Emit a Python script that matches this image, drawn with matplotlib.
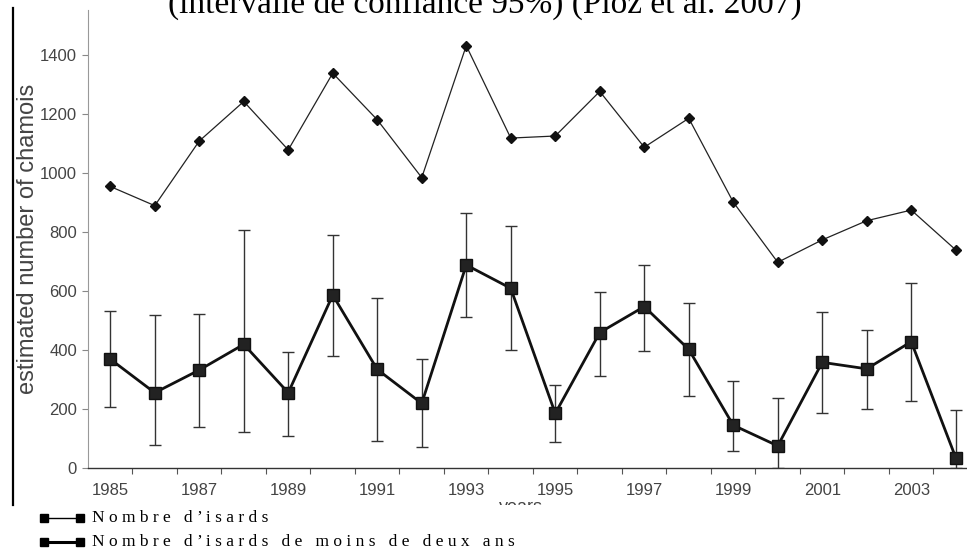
import matplotlib
matplotlib.use("Agg")
import matplotlib.pyplot as plt
from matplotlib.lines import Line2D
from matplotlib.patches import Rectangle
import numpy as np

years = np.arange(1985, 2005)

# total estimated chamois (diamonds)
total = [954, 889, 1108, 1242, 1078, 1338, 1180, 984, 1431, 1118,
         1125, 1276, 1087, 1185, 901, 697, 773, 838, 874, 739]

# chamois under two years (squares) with 95% CI
young = [369, 255, 332, 419, 255, 586, 334, 219, 688, 609,
         185, 459, 547, 402, 145, 75, 358, 336, 428, 35]
young_low = [206, 78, 140, 123, 110, 381, 92, 72, 511, 400,
             87, 312, 398, 244, 58, 0, 185, 199, 228, 0]
young_high = [533, 519, 521, 807, 394, 790, 575, 368, 863, 820,
              281, 598, 688, 558, 296, 238, 530, 468, 628, 197]

year_labels = list(range(1985, 2004, 2))
y_ticks = list(range(0, 1401, 200))

title = "(intervalle de confiance 95%) (Pioz et al. 2007)"
legend_labels = ["Nombre d\u2019isards", "Nombre d\u2019isards de moins de deux ans"]


def spaced(s):
    return " ".join(s)


fig = plt.figure(figsize=(9.67, 5.51), dpi=100)
ax = fig.add_axes([88 / 967, 1 - 468 / 551, (978 - 88) / 967, (468 - 10) / 551])

ax.plot(years, total, color="#222222", lw=0.9, marker="D", ms=5.5,
        mfc="#111111", mec="#111111", zorder=3)

err = [np.array(young) - np.array(young_low), np.array(young_high) - np.array(young)]
ax.errorbar(years, young, yerr=err, fmt="none", ecolor="#333333",
            elinewidth=1.0, capsize=4.5, capthick=1.0, zorder=2)
ax.plot(years, young, color="#111111", lw=2.0, marker="s", ms=8,
        mfc="#222222", mec="#111111", zorder=4, clip_on=False)

ax.set_xlim(1984.5, 2004.5)
ax.set_ylim(0, 1552)
ax.set_xticks(year_labels)
ax.set_xticklabels([str(y) for y in year_labels])
ax.set_xticks(np.arange(1985.5, 2004.6, 1.0), minor=True)
ax.tick_params(axis="x", which="major", length=0, pad=11, labelsize=12,
               labelcolor="#444444")
ax.tick_params(axis="x", which="minor", length=4, width=0.8, color="#555555",
               direction="out")
ax.set_yticks(y_ticks)
ax.tick_params(axis="y", length=4, width=0.8, color="#888888", pad=4,
               labelsize=12, labelcolor="#444444")
for lab in ax.get_xticklabels() + ax.get_yticklabels():
    lab.set_fontfamily("Liberation Sans")

ax.spines["top"].set_visible(False)
ax.spines["right"].set_visible(False)
ax.spines["left"].set_color("#999999")
ax.spines["left"].set_linewidth(0.8)
ax.spines["bottom"].set_color("#333333")
ax.spines["bottom"].set_linewidth(1.0)

ax.set_ylabel("estimated number of chamois", fontsize=17, color="#444444",
              family="Liberation Sans")
ax.yaxis.set_label_coords(-49 / 890, 0.5)
ax.set_xlabel("years", fontsize=13, color="#444444", family="Liberation Sans",
              va="top")
ax.xaxis.set_label_coords((521 - 88) / 890, -31 / 458)

# the scan is cut just under the axis labels
fig.add_artist(Rectangle((0, 0), 1, 1 - 505 / 551, transform=fig.transFigure,
                         facecolor="white", edgecolor="none", zorder=1))
fig.add_artist(Line2D([13 / 967, 13 / 967], [1 - 8 / 551, 1 - 505 / 551],
                      transform=fig.transFigure, color="black", lw=1.6, zorder=2))

fig.text(485 / 967, 1 - 13 / 551, title, ha="center", va="baseline",
         fontsize=24, family="Liberation Serif", color="black")

# legend drawn as in the printed document
for i, (lab, lw) in enumerate(zip(legend_labels, [1.0, 2.2])):
    yy = 1 - (518 + 24 * i) / 551
    fig.add_artist(Line2D([44 / 967, 80 / 967], [yy, yy], transform=fig.transFigure,
                          color="black", lw=lw, marker="s", ms=5.5, zorder=3))
    fig.text(92 / 967, yy, spaced(lab), ha="left", va="center", fontsize=12.5,
             family="Liberation Serif", color="black")

fig.savefig("out.png", dpi=100)
